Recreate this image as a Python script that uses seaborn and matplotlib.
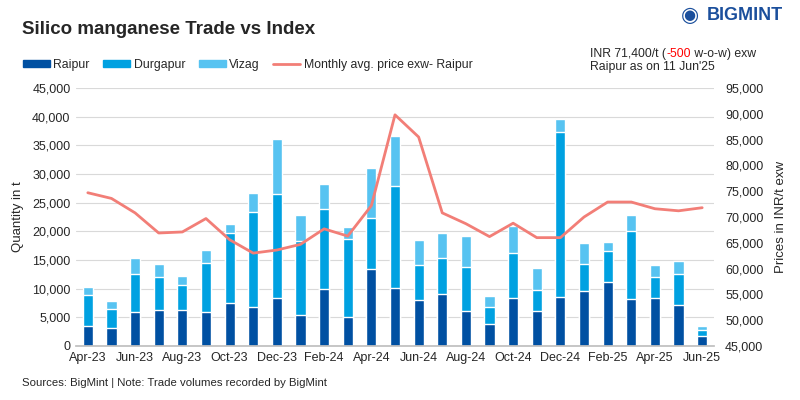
import numpy as np
import pandas as pd
import matplotlib
matplotlib.use("Agg")
import matplotlib.pyplot as plt
import seaborn as sns
from matplotlib.lines import Line2D
from matplotlib.patches import Patch

months = ["Apr-23", "May-23", "Jun-23", "Jul-23", "Aug-23", "Sep-23", "Oct-23", "Nov-23", "Dec-23",
          "Jan-24", "Feb-24", "Mar-24", "Apr-24", "May-24", "Jun-24", "Jul-24", "Aug-24", "Sep-24",
          "Oct-24", "Nov-24", "Dec-24", "Jan-25", "Feb-25", "Mar-25", "Apr-25", "May-25", "Jun-25"]
raipur = [3500, 3150, 5950, 6300, 6300, 5950, 7500, 6800, 8400,
          5400, 9950, 5050, 13450, 10150, 8050, 9100, 6100, 3850,
          8400, 6100, 8550, 9600, 11200, 8200, 8400, 7150, 1750]
durgapur = [5400, 3300, 6600, 5750, 4350, 8550, 12250, 16600, 18150,
            12950, 13950, 13650, 8900, 17800, 6100, 6250, 7700, 2950,
            7850, 3700, 28800, 4700, 5400, 11900, 3650, 5400, 1050]
vizag = [1400, 1400, 2800, 2250, 1550, 2250, 1550, 3300, 9600,
         4550, 4350, 2100, 8750, 8750, 4350, 4350, 5400, 1950,
         4700, 3850, 2250, 3650, 1550, 2800, 2100, 2250, 700]
price = [74700, 73600, 70800, 66900, 67100, 69700, 65600, 63000, 63600,
         64700, 67700, 66300, 72200, 89800, 85500, 70800, 68700, 66200,
         68800, 66000, 66000, 70000, 72900, 72900, 71600, 71200, 71800]

c_raipur = "#0050A2"
c_durg = "#00A1E1"
c_vizag = "#57C3F1"
c_line = "#F27E77"

df = pd.DataFrame({"month": months, "Raipur": raipur, "Durgapur": durgapur,
                   "Vizag": vizag, "price": price})
df["pos"] = np.arange(len(df))
df["s1"] = df["Raipur"]
df["s2"] = df["Raipur"] + df["Durgapur"]
df["s3"] = df["s2"] + df["Vizag"]

sns.set_theme(style="white")
plt.rcParams['font.family'] = ['Liberation Sans', 'DejaVu Sans']

fig = plt.figure(figsize=(8, 4), dpi=100)
ax = fig.add_axes([0.095, 0.135, 0.7975, 0.645])

for col, color in [("s3", c_vizag), ("s2", c_durg), ("s1", c_raipur)]:
    sns.barplot(data=df, x="month", y=col, color=color, ax=ax, width=0.43,
                saturation=1, order=months)

ax.set_ylim(0, 45000)
ax.set_yticks(np.arange(0, 45001, 5000))
ax.set_yticklabels([f"{v:,}" for v in range(0, 45001, 5000)], fontsize=9)
ax.yaxis.grid(True, color="#D9D9D9", linewidth=0.8)
ax.set_axisbelow(True)
ax.set_xlim(-0.5, len(months) - 0.5)
ax.set_xticks(np.arange(0, len(months), 2))
ax.set_xticklabels(months[::2], fontsize=9)
ax.set_xticks(np.arange(-0.5, len(months), 2), minor=True)
ax.tick_params(axis="x", which="major", length=0, pad=4)
ax.tick_params(axis="x", which="minor", length=4, color="#BFBFBF", width=0.8)
ax.tick_params(axis="y", length=0, pad=4)
ax.set_xlabel("")
ax.set_ylabel("Quantity in t", fontsize=9.5, labelpad=6)
for s in ["top", "left", "right"]:
    ax.spines[s].set_visible(False)
ax.spines["bottom"].set_color("#BFBFBF")

ax2 = ax.twinx()
sns.lineplot(x=df["pos"], y=df["price"], ax=ax2, color=c_line, linewidth=2)
ax2.set_ylim(45000, 95000)
ax2.set_yticks(np.arange(45000, 95001, 5000))
ax2.set_yticklabels([f"{v:,}" for v in range(45000, 95001, 5000)], fontsize=9)
ax2.tick_params(axis="y", length=0, pad=8)
ax2.set_ylabel("Prices in INR/t exw", fontsize=9.5, labelpad=8)
ax2.set_xlabel("")
ax2.grid(False)
for s in ["top", "left", "right", "bottom"]:
    ax2.spines[s].set_visible(False)
ax2.set_xlim(-0.5, len(months) - 0.5)

fig.text(0.027, 0.925, "Silico manganese Trade vs Index", fontsize=13.5, fontweight="bold",
         va="center")

handles = [Patch(color=c_raipur), Patch(color=c_durg), Patch(color=c_vizag),
           Line2D([0], [0], color=c_line, lw=2)]
labels = ["Raipur", "Durgapur", "Vizag", "Monthly avg. price exw- Raipur"]
fig.legend(handles, labels, loc="center left", bbox_to_anchor=(0.0225, 0.838), ncol=4,
           frameon=False, prop={"size": 8.8}, handlelength=2.2,
           handleheight=0.55, columnspacing=1.1, handletextpad=0.3, borderaxespad=0)

# right info text
y1, y2 = 0.864, 0.832
t1 = fig.text(0.738, y1, "INR 71,400/t (", fontsize=8.8, va="center")
fig.canvas.draw()
r = fig.canvas.get_renderer()
bb = t1.get_window_extent(r)
x = bb.x1 / fig.bbox.width
t2 = fig.text(x, y1, "-500", fontsize=8.8, va="center", color="#FF0000")
bb2 = t2.get_window_extent(r)
x2 = bb2.x1 / fig.bbox.width
fig.text(x2, y1, " w-o-w) exw", fontsize=8.8, va="center")
fig.text(0.738, y2, "Raipur as on 11 Jun'25", fontsize=8.8, va="center")

# logo
fig.text(0.862, 0.962, "\u25C9", fontsize=15, color="#1B4F9C", va="center", ha="center")
fig.text(0.883, 0.962, "BIGMINT", fontsize=13, fontweight="bold", color="#1B4F9C",
         va="center", ha="left")

fig.text(0.027, 0.043, "Sources: BigMint | Note: Trade volumes recorded by BigMint",
         fontsize=8.2, va="center")

fig.savefig("out.png", dpi=100)
